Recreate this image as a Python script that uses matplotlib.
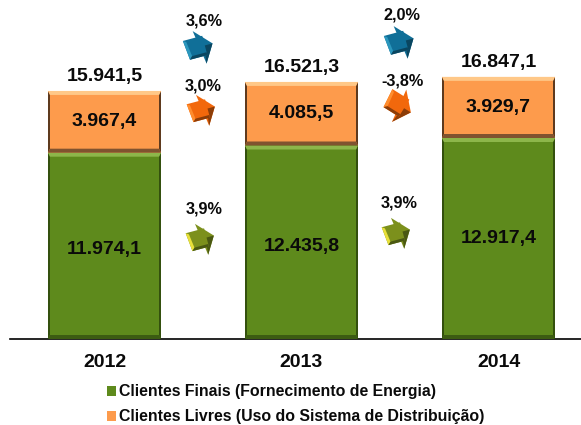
import matplotlib
matplotlib.use("Agg")
import matplotlib.pyplot as plt
from matplotlib.patches import Polygon
from matplotlib.transforms import Affine2D
import numpy as np

plt.rcParams['font.family'] = ['Liberation Sans', 'DejaVu Sans']

years = ['2012', '2013', '2014']
finais = [11974.1, 12435.8, 12917.4]
livres = [3967.4, 4085.5, 3929.7]
totais = [15941.5, 16521.3, 16847.1]
finais_lbl = ['11.974,1', '12.435,8', '12.917,4']
livres_lbl = ['3.967,4', '4.085,5', '3.929,7']
totais_lbl = ['15.941,5', '16.521,3', '16.847,1']
nome_finais = 'Clientes Finais (Fornecimento de Energia)'
nome_livres = 'Clientes Livres (Uso do Sistema de Distribuição)'

W, H = 581, 425
fig = plt.figure(figsize=(W/100, H/100), dpi=100, facecolor='white')
base_px, left_px = 339, 10
ax = fig.add_axes([left_px/W, 1-base_px/H, (W-left_px)/W, base_px/H])
PX_PER_UNIT = 0.01556
SP, C0 = 197, 104.5
ax.set_xlim((left_px-C0)/SP, (W-C0)/SP)
ax.set_ylim(0, base_px/PX_PER_UNIT)
for s in ['top', 'left', 'right']:
    ax.spines[s].set_visible(False)
ax.spines['bottom'].set_linewidth(1.2)
ax.patch.set_alpha(0)
x = np.arange(3)
bw = 113/SP
GREEN, ORANGE = '#5e8a1c', '#fd9b4c'
b1 = ax.bar(x, finais, bw, color=GREEN, label=nome_finais, linewidth=0, zorder=2)
b2 = ax.bar(x, livres, bw, bottom=finais, color=ORANGE, label=nome_livres, linewidth=0, zorder=2)

def bevel(xc, y0, y1, light, dark, side):
    ux = 1/SP
    uy = 1/PX_PER_UNIT
    l, r = xc-bw/2, xc+bw/2
    t = 4*uy
    b = 4*uy
    s = 2*ux
    ax.add_patch(Polygon([(l, y0), (r, y0), (r-s, y0+b), (l+s, y0+b)], fc=dark, ec='none', zorder=3))
    ax.add_patch(Polygon([(l, y0), (l+s, y0+b), (l+s, y1-t), (l, y1)], fc=side, ec='none', zorder=3))
    ax.add_patch(Polygon([(r, y0), (r-s, y0+b), (r-s, y1-t), (r, y1)], fc=side, ec='none', zorder=3))
    ax.add_patch(Polygon([(l, y1), (r, y1), (r-s, y1-t), (l+s, y1-t)], fc=light, ec='none', zorder=3))

lbl_dy = [-4, -4, 0]
for i in x:
    bevel(i, 0, finais[i], '#8db64a', '#3c5c12', '#34500e')
    bevel(i, finais[i], totais[i], '#ffc888', '#80532f', '#5e3a1e')
    ax.annotate(finais_lbl[i], (i, finais[i]/2), xytext=(0, lbl_dy[i]*0.72), textcoords='offset points',
                ha='center', va='center', fontsize=14, fontweight='bold', color='#0a0a0a', zorder=5)
    ax.text(i, finais[i]+livres[i]/2, livres_lbl[i], ha='center', va='center', fontsize=14, fontweight='bold', color='#0a0a0a', zorder=5)
    ax.annotate(totais_lbl[i], (i, totais[i]), xytext=(0, 4.5), textcoords='offset points', ha='center', va='bottom',
                fontsize=14, fontweight='bold', color='#0a0a0a')

ax.set_yticks([])
ax.set_xticks(x, years, fontsize=14, fontweight='bold', color='#0a0a0a')
ax.tick_params(axis='x', length=0, pad=10.5)

leg = ax.legend(handles=[b1, b2], loc='upper left', bbox_to_anchor=((107-left_px)/(W-left_px), -0.134), frameon=False,
                prop={'size': 11.4, 'weight': 'bold'}, handlelength=0.57, handleheight=0.57, handletextpad=0.2,
                labelspacing=0.62, borderpad=0, borderaxespad=0)
for t in leg.get_texts():
    t.set_color('#0a0a0a')

px = Affine2D().scale(1/W, -1/H).translate(0, 1) + fig.transFigure

perc = ['3,6%', '3,0%', '3,9%', '2,0%', '-3,8%', '3,9%']
perc_pos = [(204, 21), (203, 86), (204, 209), (402, 15), (402, 81), (399, 203)]
for s, (a, b) in zip(perc, perc_pos):
    fig.text(a, b, s, transform=px, ha='center', va='center', fontsize=11.7, fontweight='bold', color='#0a0a0a')

BLUE = ('#106f98', '#0a4660', '#2b97bd')
ORG = ('#f2680c', '#8c3d08', '#ff8d2e')
OLIVE = ('#7c901c', '#4a5812', '#e8e03a')
arrows = [(199, 47, 15, 1.0, BLUE), (202, 110, 15, 0.95, ORG), (201, 239, 15, 0.95, OLIVE),
          (400, 42, 15, 1.0, BLUE), (399, 105, -32, 1.0, ORG), (397, 233, 15, 0.95, OLIVE)]
for cx, cy, ang, sc, (main, dark, light) in arrows:
    tr = Affine2D().scale(sc, -sc).rotate_deg(-ang).translate(cx, cy) + px
    faces = [
        ([(-2, 17), (14, 0), (3, -18)], main),           # head
        ([(14, 0), (3, -18), (5, 0)], dark),             # lower facet of head
        ([(-14, 10), (6, 10), (6, -10), (-12, -10)], main),  # shaft
        ([(-14, 10), (-12, -10), (-9, -7), (-11, 8)], light),
        ([(-12, -10), (6, -10), (6, -7), (-9, -7)], dark),
    ]
    for pts, c in faces:
        fig.add_artist(Polygon(pts, closed=True, fc=c, ec='none', transform=tr))

fig.savefig('out.png', dpi=100, facecolor='white')
